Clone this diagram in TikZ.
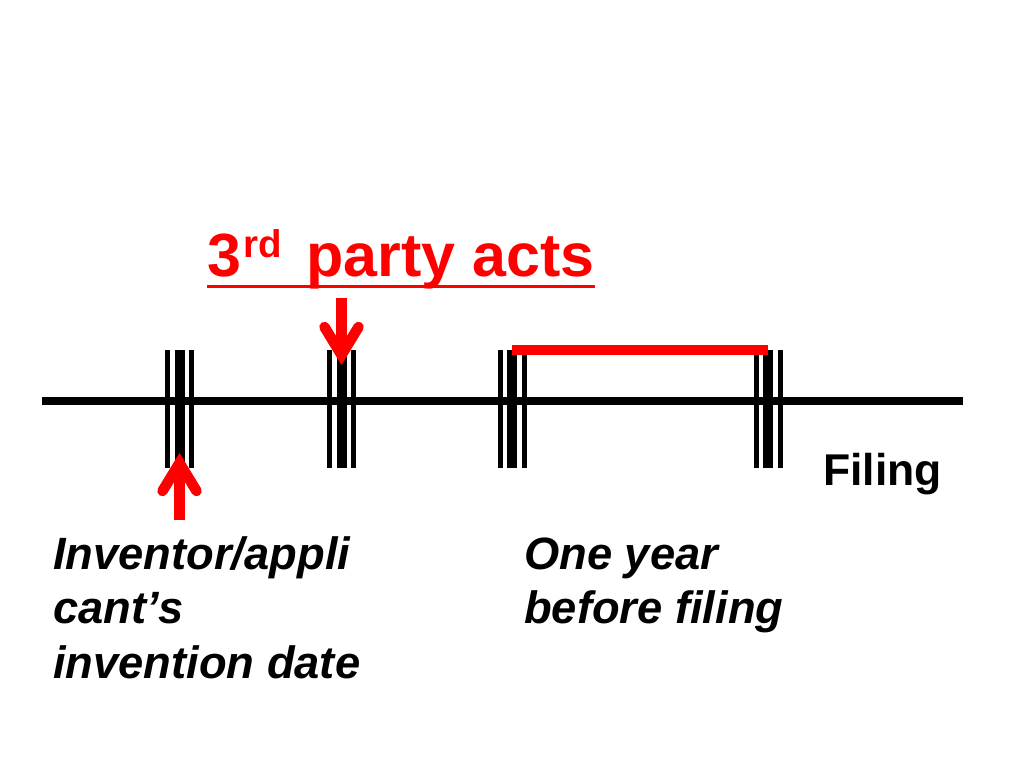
\documentclass[tikz,border=0pt]{standalone}
\usepackage{fontspec}
\setmainfont{Liberation Sans}
\usetikzlibrary{calc}
\begin{document}
\begin{tikzpicture}[x=1pt,y=-1pt,
  thinbar/.style={line width=5pt},
  thickbar/.style={line width=10pt},
  axisline/.style={line width=8pt},
  redbar/.style={red, line width=10pt},
  redshaft/.style={red, line width=10.5pt},
  redhead/.style={red, line width=10.5pt, line join=miter, line cap=round},
  labeltext/.style={inner sep=0pt, font=\bfseries\itshape\fontsize{45.3}{54.5}\selectfont, align=left}]
\useasboundingbox (0,0) rectangle (1024,768);
\fill[white] (0,0) rectangle (1024,768);
% time axis
\coordinate (L) at (42,401);
\coordinate (R) at (963,401);
\draw[axisline] (L) -- (R);
% tick groups
\foreach \c/\n in {179.5/g1, 341.5/g2, 512/g3, 768/g4} {
  \coordinate (\n) at (\c,401);
  \draw[thinbar] (\c-12,350) -- (\c-12,468);
  \draw[thickbar] (\c,350) -- (\c,468);
  \draw[thinbar] (\c+12,350) -- (\c+12,468);
}
% red year bar
\coordinate (y0) at (512,350);
\coordinate (y1) at (768,350);
\draw[redbar] (y0) -- (y1);
% down arrow (3rd party acts)
\coordinate (d0) at (341.5,298);
\coordinate (d1) at (341.5,355);
\draw[redshaft] (d0) -- (d1);
\draw[redhead] ($(d1)+(-17,-28)$) -- (d1) -- ($(d1)+(17,-28)$);
% up arrow (invention date)
\coordinate (u0) at (179.5,520);
\coordinate (u1) at (179.5,463);
\draw[redshaft] (u0) -- (u1);
\draw[redhead] ($(u1)+(-17,28)$) -- (u1) -- ($(u1)+(17,28)$);
% title
\node[anchor=base west, inner sep=0pt, text=red, font=\bfseries\fontsize{61}{72}\selectfont] (title) at (207,276) {3\hspace{2pt}\raisebox{18.5pt}{\fontsize{38.5}{40}\selectfont rd}\hspace{8pt} party acts};
\draw[red, line width=3pt] ([yshift=-10.5pt]title.base west) -- ([yshift=-10.5pt]title.base east);
% labels
\node[anchor=base west, inner sep=0pt, font=\bfseries\fontsize{44.5}{53}\selectfont] (filing) at (823,485) {Filing};
\node[labeltext, anchor=base west] (inv) at (53,678) {Inventor/appli\\cant’s\\invention date};
\node[labeltext, anchor=base west] (year) at (524,623.5) {One year\\before filing};
\end{tikzpicture}
\end{document}
